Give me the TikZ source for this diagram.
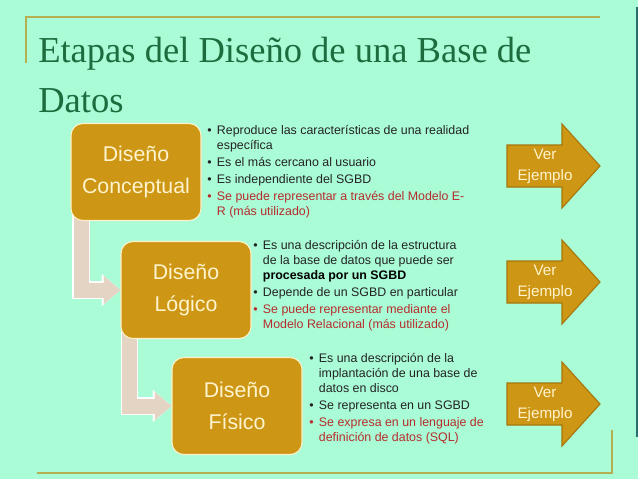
\documentclass[tikz,border=0pt]{standalone}
\usepackage{fontspec}
\setmainfont{Liberation Sans}
\newfontfamily\titlefont{Liberation Serif}
\usepackage{xcolor}
\usepackage{tikz}
\usetikzlibrary{arrows.meta}
\usetikzlibrary{backgrounds}

\definecolor{slidebg}{RGB}{170,252,214}
\definecolor{titlegreen}{RGB}{28,108,62}
\definecolor{framecol}{RGB}{180,176,82}
\definecolor{stagegold}{RGB}{205,150,20}
\definecolor{stagerim}{RGB}{255,240,200}
\definecolor{stagetext}{RGB}{255,244,205}
\definecolor{elbowbeige}{RGB}{228,212,196}
\definecolor{pointerrim}{RGB}{165,118,12}
\definecolor{notetext}{RGB}{35,35,35}
\definecolor{redtext}{RGB}{182,44,44}
\definecolor{edgeteal}{RGB}{40,110,110}

\newlength{\itemgap}
\setlength{\itemgap}{1.7pt}

\begin{document}
\begin{tikzpicture}[x=0.75pt,y=0.75pt,yscale=-1,xscale=1,
	stage/.style={draw=stagerim, line width=0.8pt, fill=stagegold, rounded corners=9pt,
		minimum width=97.5pt, minimum height=72.75pt, text=stagetext, align=center,
		font=\fontsize{16}{24}\selectfont},
	notes/.style={inner sep=0pt, text=notetext, font=\fontsize{9.3}{11.1}\selectfont},
	heading/.style={inner sep=0pt, text=titlegreen, font=\titlefont\fontsize{27.4}{37.5}\selectfont},
	frameline/.style={draw=framecol, line width=1.2pt},
	elbowrim/.style={draw=white, line width=13pt, -{Triangle[length=14pt,width=24pt,line width=0.1pt]}},
	elbow/.style={draw=elbowbeige, line width=11.25pt, -{Triangle[length=12.5pt,width=21pt,line width=0.1pt]}},
	pointer/.style={fill=stagegold, draw=pointerrim, line width=0.8pt, line join=miter},
	vertext/.style={inner sep=0pt, text=stagetext, align=center, font=\fontsize{11.4}{15.75}\selectfont}]
	
	\useasboundingbox (0,0) rectangle (638,479);
	
	% Title
	\node[heading, anchor=base west] (title1) at (38,62) {Etapas del Diseño de una Base de};
	\node[heading, anchor=base west] (title2) at (38,112) {Datos};
	
	% Stages
	\node[stage] (concep) at (136,172) {Diseño\\Conceptual};
	\node[stage] (logico) at (186,290) {Diseño\\Lógico};
	\node[stage] (fisico) at (237,406) {Diseño\\Físico};
	
	% Notes next to each stage
	\node[notes, anchor=north west] (notes1) at (207,124) {%
		\begin{tabular}{@{}l@{\hspace{4pt}}l@{}}
			• & Reproduce las características de una realidad\\
			& específica\\[\itemgap]
			• & Es el más cercano al usuario\\[\itemgap]
			• & Es independiente del SGBD\\[\itemgap]
			\color{redtext}• & \color{redtext}Se puede representar a través del Modelo E-\\
			& \color{redtext}R (más utilizado)
	\end{tabular}};
	\node[notes, anchor=north west] (notes2) at (253,239) {%
		\begin{tabular}{@{}l@{\hspace{4pt}}l@{}}
			• & Es una descripción de la estructura\\
			& de la base de datos que puede ser\\
			& \textbf{\color{black}procesada por un SGBD}\\[\itemgap]
			• & Depende de un SGBD en particular\\[\itemgap]
			\color{redtext}• & \color{redtext}Se puede representar mediante el\\
			& \color{redtext}Modelo Relacional (más utilizado)
	\end{tabular}};
	\node[notes, anchor=north west] (notes3) at (309,352) {%
		\begin{tabular}{@{}l@{\hspace{4pt}}l@{}}
			• & Es una descripción de la\\
			& implantación de una base de\\
			& datos en disco\\[\itemgap]
			• & Se representa en un SGBD\\[\itemgap]
			\color{redtext}• & \color{redtext}Se expresa en un lenguaje de\\
			& \color{redtext}definición de datos (SQL)
	\end{tabular}};
	
	% Ver Ejemplo pointers
	\foreach \yy [count=\i] in {166,282,404} {
		\draw[pointer] (507,\yy-21) -- (562,\yy-21) -- (562,\yy-42) -- (600,\yy)
			-- (562,\yy+42) -- (562,\yy+21) -- (507,\yy+21) -- cycle;
		\node[vertext] (ver\i) at (545,\yy) {Ver\\Ejemplo};
	}
	
	\begin{scope}[on background layer]
		\fill[slidebg] (0,0) rectangle (638,479);
		% slide frame
		\draw[frameline] (26,63) -- (26,17) -- (600,17);
		\draw[frameline] (37,473) -- (612,473) -- (612,430);
		\draw[edgeteal, line width=1.5pt] (637,7) -- (637,437);
		% elbow connectors between stages
		\draw[elbowrim] ([xshift=8pt]concep.west) |- (logico.west);
		\draw[elbow] ([xshift=8pt]concep.west) |- (logico.west);
		\draw[elbowrim] ([xshift=7pt]logico.west) |- (fisico.west);
		\draw[elbow] ([xshift=7pt]logico.west) |- (fisico.west);
	\end{scope}
	
\end{tikzpicture}
\end{document}
